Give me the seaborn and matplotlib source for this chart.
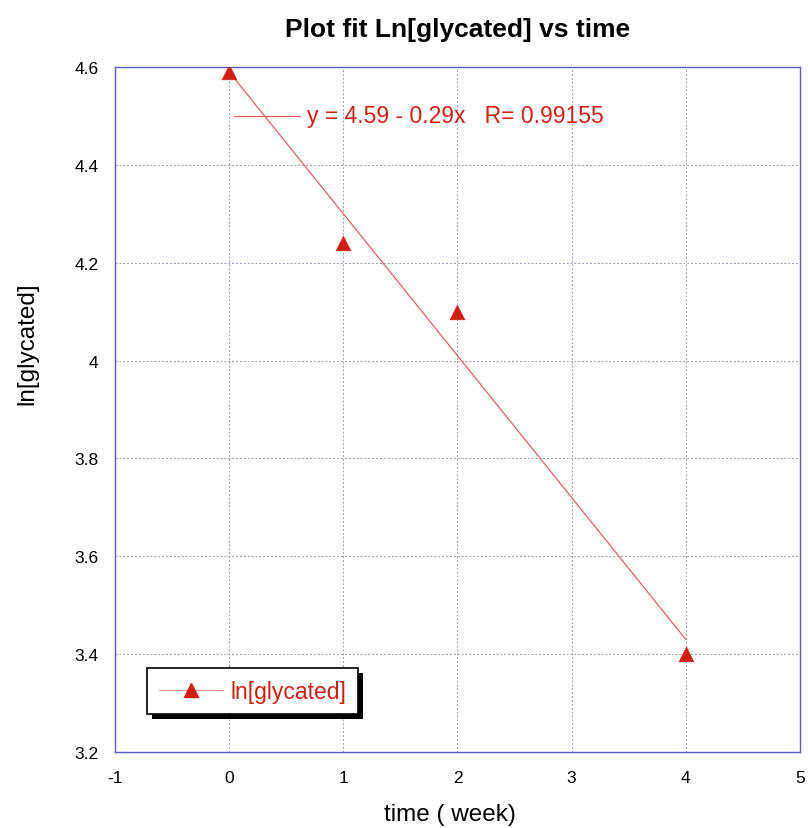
import matplotlib
matplotlib.use("Agg")
import matplotlib.pyplot as plt
from matplotlib.patches import Rectangle
from matplotlib.transforms import IdentityTransform
import seaborn as sns
import numpy as np
import pandas as pd

# Measured data
time_week = [0, 1, 2, 4]
ln_glycated = [4.59, 4.24, 4.10, 3.40]

# Linear fit parameters
fit_intercept = 4.59
fit_slope = -0.29
fit_r = 0.99155
fit_label = "y = 4.59 - 0.29x   R= 0.99155"

x_ticks = [-1, 0, 1, 2, 3, 4, 5]
y_ticks = [3.2, 3.4, 3.6, 3.8, 4.0, 4.2, 4.4, 4.6]
y_tick_labels = ["3.2", "3.4", "3.6", "3.8", "4", "4.2", "4.4", "4.6"]

sns.set_style("white")
plt.rcParams["font.family"] = ["Liberation Sans", "DejaVu Sans"]
plt.rcParams["text.color"] = "black"
plt.rcParams["axes.labelcolor"] = "black"

RED = "#d41e14"
FIT_RED = "#e06060"
FRAME = "#5a5fc8"
GRID = "#9a9ab8"

fig = plt.figure(figsize=(8.08, 8.29), dpi=100)
ax = fig.add_axes([115 / 808, 1 - 753 / 829, 685 / 808, 685 / 829])

df = pd.DataFrame({"time": time_week, "ln": ln_glycated})
fit_x = np.array([min(time_week), max(time_week)], dtype=float)
fit_df = pd.DataFrame({"time": fit_x, "ln": fit_intercept + fit_slope * fit_x})

sns.lineplot(data=fit_df, x="time", y="ln", ax=ax, color=FIT_RED, lw=0.9,
             legend=False, zorder=3)
sns.scatterplot(data=df, x="time", y="ln", ax=ax, marker="^", s=110,
                color=RED, edgecolor=RED, linewidth=0.5, zorder=4, legend=False)

ax.set_xlim(-1, 5)
ax.set_ylim(3.2, 4.6)
ax.set_xticks(x_ticks)
ax.set_xticklabels([str(t) for t in x_ticks])
ax.set_yticks(y_ticks)
ax.set_yticklabels(y_tick_labels)
ax.tick_params(axis="both", direction="in", length=6, color=FRAME,
               labelsize=12.5, labelcolor="black")
ax.tick_params(axis="x", pad=13)
ax.tick_params(axis="y", pad=12)

ax.grid(True, color=GRID, linestyle=(0, (2, 2)), linewidth=0.7)
for sp in ax.spines.values():
    sp.set_visible(True)
    sp.set_color(FRAME)
    sp.set_linewidth(1.0)

ax.set_xlabel("time ( week)", fontsize=17.5)
ax.xaxis.set_label_coords(0.489, -0.09)
ax.xaxis.label.set_va("center")
ax.set_ylabel("ln[glycated]", fontsize=17.5)
ax.yaxis.set_label_coords(-0.128, 0.598)
ax.yaxis.label.set_va("center")
ax.set_title("Plot fit Ln[glycated] vs time", fontsize=19, fontweight="bold",
             pad=22, color="black")

# Fit equation annotation with its line sample
ax.plot([0.04, 0.62], [4.50, 4.50], color=FIT_RED, lw=0.9, zorder=3)
ax.text(0.68, 4.50, fit_label, color=RED, fontsize=16.5, va="center", ha="left")

# Legend
handle = plt.Line2D([], [], color="#f0a0a0", lw=1.0, marker="^", markersize=10,
                    markerfacecolor=RED, markeredgecolor=RED)
leg = ax.legend([handle], ["ln[glycated]"], loc="lower left",
                bbox_to_anchor=(0.047, 0.055), fontsize=16.5, frameon=True,
                fancybox=False, handlelength=2.8, handletextpad=0.35,
                borderpad=0.5, borderaxespad=0, labelcolor=RED, framealpha=1.0)
leg.get_frame().set_edgecolor("black")
leg.get_frame().set_linewidth(1.2)
leg.get_frame().set_facecolor("white")
leg.set_zorder(6)

# Solid black drop shadow behind the legend box
fig.canvas.draw()
bb = leg.get_window_extent()
off = 5
shadow = Rectangle((bb.x0 + off, bb.y0 - off), bb.width, bb.height,
                   transform=IdentityTransform(), facecolor="black",
                   edgecolor="none", zorder=5.5, clip_on=False)
ax.add_artist(shadow)

fig.savefig("out.png", dpi=100)
